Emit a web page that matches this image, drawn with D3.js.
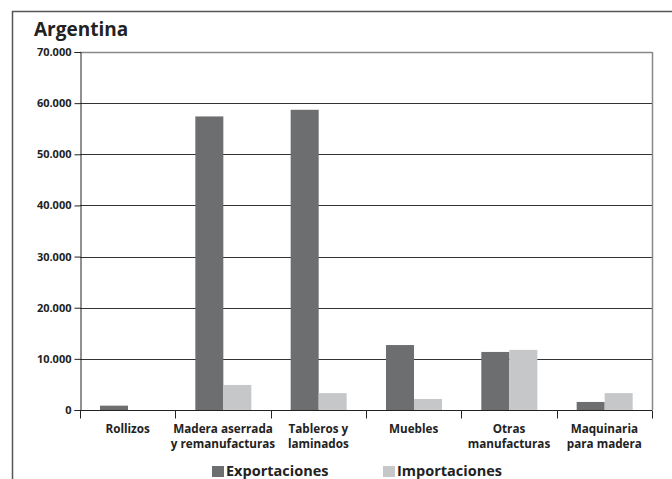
<!DOCTYPE html>
<html><head><meta charset="utf-8">
<script src="https://cdn.jsdelivr.net/npm/d3@7/dist/d3.min.js"></script>
<style>
body{margin:0;background:#fff;}
text{font-family:"Open Sans",sans-serif;font-weight:bold;fill:#222;}
</style></head>
<body><svg id="c" width="672" height="479"></svg>
<script>
const categories = [["Rollizos"],["Madera aserrada","y remanufacturas"],["Tableros y","laminados"],["Muebles"],["Otras","manufacturas"],["Maquinaria","para madera"]];
const exportaciones = [850, 57400, 58700, 12700, 11350, 1570];
const importaciones = [0, 4900, 3300, 2150, 11750, 3300];
const yTicks = [0,10000,20000,30000,40000,50000,60000,70000];
const seriesNames = ["Exportaciones","Importaciones"];
const colors = ["#6d6e70","#c6c7c9"];

const svg = d3.select("#c");
const L=80,R=652,T=52,B=410;
const x = d3.scaleBand().domain(d3.range(categories.length)).range([L,R]);
const xs = d3.scaleBand().domain([0,1]).range([0,56]);
const y = d3.scaleLinear().domain([0,70000]).range([B,T]);
const fmt = d3.format(",.0f");
const f = v => fmt(v).replace(/,/g,".");

// outer frame
svg.append("line").attr("x1",12).attr("x2",672).attr("y1",11.5).attr("y2",11.5).attr("stroke","#555").attr("stroke-width",1.5);
svg.append("line").attr("x1",12.5).attr("x2",12.5).attr("y1",11).attr("y2",479).attr("stroke","#555").attr("stroke-width",1.5);

svg.append("text").attr("x",34).attr("y",36).style("font-size","19px").text("Argentina");

// gridlines
svg.append("g").selectAll("line").data(yTicks.filter(d=>d>0)).join("line")
 .attr("x1",L).attr("x2",R).attr("y1",d=>Math.round(y(d))+0.5).attr("y2",d=>Math.round(y(d))+0.5)
 .attr("stroke",d=>d===70000?"#888":"#333").attr("stroke-width",d=>d===70000?1.5:1);
// right border
svg.append("line").attr("x1",R+0.5).attr("x2",R+0.5).attr("y1",T).attr("y2",B).attr("stroke","#888").attr("stroke-width",1.5);

// y axis
const ya = d3.axisLeft(y).tickValues(yTicks).tickFormat(f).tickSize(6).tickPadding(3);
const gy = svg.append("g").attr("transform",`translate(${L+0.5},0)`).call(ya);
gy.select(".domain").attr("stroke","#222");
gy.selectAll(".tick line").attr("stroke","#222");
gy.selectAll("text").style("font-size","11px").attr("fill","#222");

// bars
const g = svg.append("g");
[exportaciones, importaciones].forEach((arr,si)=>{
  g.selectAll(null).data(arr).join("rect")
   .attr("x",(d,i)=>x(i)+20+xs(si)).attr("width",xs.bandwidth())
   .attr("y",d=>y(d)).attr("height",d=>B-y(d)).attr("fill",colors[si]);
});

// x axis
const gx = svg.append("g").attr("transform",`translate(0,${B+0.5})`);
gx.append("line").attr("x1",L).attr("x2",R).attr("stroke","#222");
gx.selectAll("line.tk").data(d3.range(categories.length+1)).join("line").attr("class","tk")
 .attr("x1",i=>Math.round(L+i*x.step())+0.5).attr("x2",i=>Math.round(L+i*x.step())+0.5)
 .attr("y1",0).attr("y2",8).attr("stroke","#222");

const lab = svg.append("g");
categories.forEach((c,i)=>{
  const cx = x(i)+x.bandwidth()/2;
  c.forEach((s,j)=>lab.append("text").attr("x",cx).attr("y",433+15*j).attr("text-anchor","middle").style("font-size","11.7px").text(s));
});

// legend
const lx=[212,383];
seriesNames.forEach((n,i)=>{
  svg.append("rect").attr("x",lx[i]).attr("y",466).attr("width",12).attr("height",11).attr("fill",colors[i]);
  svg.append("text").attr("x",lx[i]+14).attr("y",476).style("font-size","14.5px").text(n);
});
</script></body></html>
